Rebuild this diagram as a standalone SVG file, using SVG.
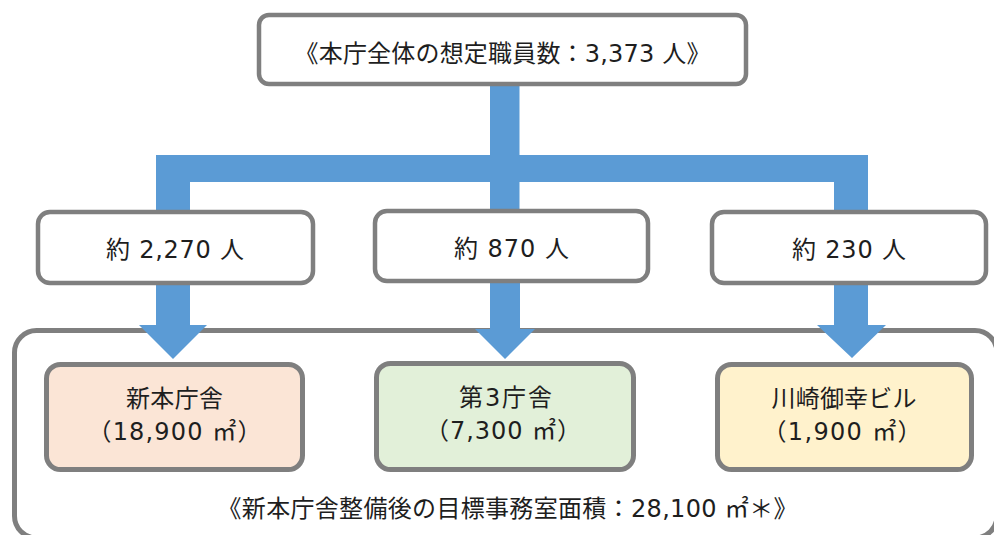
<svg xmlns="http://www.w3.org/2000/svg" width="994" height="535" viewBox="0 0 994 535">
<style>
.box{fill:#ffffff;stroke:#7f7f7f;stroke-width:4.5}
.bld{stroke:#7f7f7f;stroke-width:5}
.blue{fill:#5b9bd5}
text{font-family:"DejaVu Sans","Noto Sans CJK JP",sans-serif;font-size:24px;fill:#1e1e1e;text-anchor:middle}
</style>
<rect width="994" height="535" fill="#ffffff"/>
<g id="container">
<rect x="14.5" y="330.5" width="982.5" height="207.5" rx="22" fill="none" stroke="#7f7f7f" stroke-width="5"/>
<text x="507.5" y="516.5" textLength="580" lengthAdjust="spacing">《新本庁舎整備後の目標事務室面積：28,100 ㎡＊》</text>
</g>
<g id="connectors">
<rect class="blue" x="490" y="84" width="29.5" height="128"/>
<rect class="blue" x="156" y="155" width="712" height="27"/>
<rect class="blue" x="156" y="155" width="34" height="58"/>
<rect class="blue" x="834" y="155" width="34" height="58"/>
<polygon class="blue" points="156,283 190,283 190,325 207,325 173,359 139,325 156,325"/>
<polygon class="blue" points="490,281 520,281 520,329 535,329 505,359 475,329 490,329"/>
<polygon class="blue" points="834,283 868,283 868,325 886,325 852,358 817,325 834,325"/>
</g>
<g id="total">
<rect class="box" x="259" y="15" width="487" height="69" rx="10"/>
<text x="502.5" y="61.5" textLength="416" lengthAdjust="spacing">《本庁全体の想定職員数：3,373 人》</text>
</g>
<g id="staff-new">
<rect class="box" x="38" y="212" width="275" height="71" rx="12"/>
<text x="175" y="257.5" textLength="138" lengthAdjust="spacing">約 2,270 人</text>
</g>
<g id="staff-3rd">
<rect class="box" x="375" y="211" width="273" height="70" rx="12"/>
<text x="511.5" y="256.5" textLength="115" lengthAdjust="spacing">約 870 人</text>
</g>
<g id="staff-saiwai">
<rect class="box" x="712" y="212" width="274" height="71" rx="12"/>
<text x="849" y="257.5" textLength="114" lengthAdjust="spacing">約 230 人</text>
</g>
<g id="bldg-new">
<rect class="bld" x="46.5" y="364.5" width="256" height="105" rx="14" fill="#fbe5d6"/>
<text x="174.5" y="406.5" textLength="97" lengthAdjust="spacing">新本庁舎</text>
<text x="174.5" y="439.5" textLength="174" lengthAdjust="spacing">（18,900 ㎡）</text>
</g>
<g id="bldg-3rd">
<rect class="bld" x="376.5" y="363.5" width="257" height="106" rx="14" fill="#e2f0d9"/>
<text x="505.5" y="406" textLength="93" lengthAdjust="spacing">第3庁舎</text>
<text x="503" y="438.5" textLength="156" lengthAdjust="spacing">（7,300 ㎡）</text>
</g>
<g id="bldg-saiwai">
<rect class="bld" x="717.5" y="364.5" width="254" height="105" rx="14" fill="#fff2cc"/>
<text x="844" y="406.5" textLength="145" lengthAdjust="spacing">川崎御幸ビル</text>
<text x="842" y="439.5" textLength="159" lengthAdjust="spacing">（1,900 ㎡）</text>
</g>
</svg>
